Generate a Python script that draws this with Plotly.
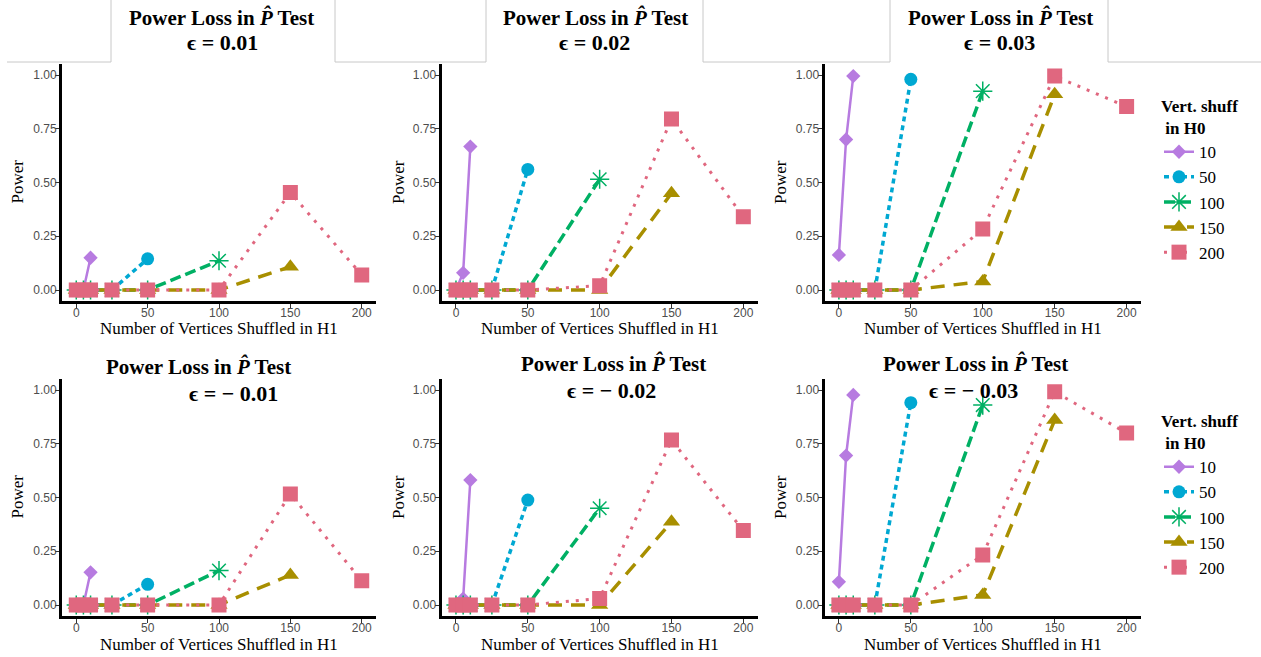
import plotly.graph_objects as go

# ---------------- data ----------------
x_h1 = [0, 5, 10, 25, 50, 100, 150, 200]          # vertices shuffled in H1
h0_groups = ["10", "50", "100", "150", "200"]      # vertices shuffled in H0
n_points = [3, 5, 6, 7, 8]                         # points per H0 group
eps_labels = ["0.01", "0.02", "0.03", "− 0.01", "− 0.02", "− 0.03"]
y_ticks = [0, 0.25, 0.5, 0.75, 1.0]
y_tick_text = ["0.00", "0.25", "0.50", "0.75", "1.00"]
x_ticks = [0, 50, 100, 150, 200]

power_eps_p01 = [[0, 0, 0.15], [0, 0, 0, 0, 0.145], [0, 0, 0, 0, 0, 0.136],
                 [0, 0, 0, 0, 0, 0, 0.108], [0, 0, 0, 0, 0, 0, 0.453, 0.07]]
power_eps_p02 = [[0, 0.08, 0.667], [0, 0, 0, 0, 0.561], [0, 0, 0, 0, 0, 0.515],
                 [0, 0, 0, 0, 0, 0, 0.45], [0, 0, 0, 0, 0, 0.02, 0.795, 0.341]]
power_eps_p03 = [[0.163, 0.70, 0.995], [0, 0, 0, 0, 0.98], [0, 0, 0, 0, 0, 0.925],
                 [0, 0, 0, 0, 0, 0.04, 0.91], [0, 0, 0, 0, 0, 0.284, 0.995, 0.853]]
power_eps_m01 = [[0, 0, 0.152], [0, 0, 0, 0, 0.096], [0, 0, 0, 0, 0, 0.16],
                 [0, 0, 0, 0, 0, 0, 0.14], [0, 0, 0, 0, 0, 0, 0.516, 0.113]]
power_eps_m02 = [[0, 0.03, 0.581], [0, 0, 0, 0, 0.488], [0, 0, 0, 0, 0, 0.45],
                 [0, 0, 0, 0, 0, 0, 0.387], [0, 0, 0, 0, 0, 0.03, 0.767, 0.346]]
power_eps_m03 = [[0.108, 0.695, 0.977], [0, 0, 0, 0, 0.941], [0, 0, 0, 0, 0, 0.93],
                 [0, 0, 0, 0, 0, 0.047, 0.86], [0, 0, 0, 0, 0, 0.233, 0.992, 0.80]]
panel_data = [power_eps_p01, power_eps_p02, power_eps_p03,
              power_eps_m01, power_eps_m02, power_eps_m03]

# ---------------- styles ----------------
W, H = 1261, 657
colors = ["#B77BE0", "#00A8D2", "#00B064", "#A88F00", "#E0677F"]
symbols = ["diamond", "circle", "asterisk-open", "triangle-up", "square"]
msizes = [11, 13, 16, 15, 15]
dashes = ["solid", "5px,4px", "11px,5px", "14px,9px", "3px,7px"]
lwidths = [2.5, 3.5, 3.5, 3.5, 3]

SERIF = "Liberation Serif"
SANS = "Liberation Sans"

def px(p):
    return p / W

def py(p):
    return 1 - p / H

# panel pixel boxes (x0, x1) and (ytop, ybottom)
cols = [(62, 376), (441.6, 757.7), (824.5, 1141)]
rows = [(64.25, 300.75), (379.25, 615.75)]

fig = go.Figure()
layout = dict(width=W, height=H, margin=dict(l=0, r=0, t=0, b=0),
              paper_bgcolor="white", plot_bgcolor="white", showlegend=True)

for k in range(6):
    r, c = divmod(k, 3)
    ax = "" if k == 0 else str(k + 1)
    x0, x1 = cols[c]
    yt, yb = rows[r]
    layout["xaxis" + ax] = dict(
        domain=[px(x0), px(x1)], range=[-10, 210], anchor="y" + ax,
        showgrid=False, zeroline=False, showline=True, linecolor="black", linewidth=3,
        ticks="outside", ticklen=4, tickwidth=1, tickcolor="#333333", ticklabelstandoff=-5,
        tickvals=x_ticks, tickfont=dict(family=SANS, size=12, color="#4D4D4D"))
    layout["yaxis" + ax] = dict(
        domain=[py(yb), py(yt)], range=[-0.05, 1.05], anchor="x" + ax,
        showgrid=False, zeroline=False, showline=True, linecolor="black", linewidth=3,
        ticks="outside", ticklen=4, tickwidth=1, tickcolor="#333333", ticklabelstandoff=-4,
        tickvals=y_ticks, ticktext=y_tick_text,
        tickfont=dict(family=SANS, size=12, color="#4D4D4D"))
    for g in range(5):
        n = n_points[g]
        show = (k == 0 or k == 3)
        fig.add_trace(go.Scatter(
            x=x_h1[:n], y=panel_data[k][g], xaxis="x" + ax, yaxis="y" + ax,
            mode="lines+markers", name=h0_groups[g],
            legend="legend" if r == 0 else "legend2", showlegend=show,
            line=dict(color=colors[g], width=lwidths[g], dash=dashes[g]),
            marker=dict(symbol=symbols[g], size=msizes[g], color=colors[g],
                        line=dict(color=colors[g], width=1.5 if g == 2 else 0))))

leg_common = dict(xanchor="left", yanchor="top", bgcolor="rgba(0,0,0,0)",
                  font=dict(family=SERIF, size=17, color="black"),
                  traceorder="normal")
layout["legend"] = dict(x=px(1159), y=py(90),
                        title=dict(text="<b>Vert. shuff<br> in H0</b>",
                                   font=dict(family=SERIF, size=17, color="black")),
                        **leg_common)
layout["legend2"] = dict(x=px(1159), y=py(405),
                         title=dict(text="<b>Vert. shuff<br> in H0</b>",
                                    font=dict(family=SERIF, size=17, color="black")),
                         **leg_common)

annotations = []
title1 = "<b>Power Loss in <i>P\u0302</i> Test</b>"
title_pos = [  # (line1 x, line1 y, line2 x, line2 y)
    (221.5, 17, 222.5, 43), (595, 17, 594.5, 43), (1000, 17, 999.5, 43),
    (198.5, 366, 233, 393), (613.5, 363, 611.5, 390), (975, 363, 973, 390)]
for k in range(6):
    a, b, c2, d = title_pos[k]
    annotations.append(dict(text=title1, x=px(a), y=py(b), xref="paper", yref="paper",
                            xanchor="center", yanchor="middle", showarrow=False,
                            font=dict(family=SERIF, size=21, color="black")))
    annotations.append(dict(text="<b>\u03f5 = " + eps_labels[k] + "</b>", x=px(c2), y=py(d),
                            xref="paper", yref="paper", xanchor="center", yanchor="middle",
                            showarrow=False, font=dict(family=SERIF, size=22, color="black")))
# axis titles
for k in range(6):
    r, c = divmod(k, 3)
    x0, x1 = cols[c]
    ylab_x = [16.5, 398, 780][c]
    ylab_y = [182, 497][r]
    xlab_y = [328, 644][r]
    annotations.append(dict(text="Power", x=px(ylab_x), y=py(ylab_y), xref="paper", yref="paper",
                            textangle=-90, xanchor="center", yanchor="middle", showarrow=False,
                            font=dict(family=SERIF, size=17, color="black")))
    annotations.append(dict(text="Number of Vertices Shuffled in H1", x=px((x0 + x1) / 2),
                            y=py(xlab_y), xref="paper", yref="paper", xanchor="center",
                            yanchor="middle", showarrow=False,
                            font=dict(family=SERIF, size=17, color="black")))
layout["annotations"] = annotations

# grey frame lines of the pasted title boxes
shapes = []
gc = "#C8C8C8"
for (a, b) in [(7, 111), (335, 486), (703, 890), (1108, 1261)]:
    shapes.append(dict(type="line", xref="paper", yref="paper", x0=px(a), x1=px(b),
                       y0=py(62), y1=py(62), line=dict(color=gc, width=1)))
for a in [111, 335, 486, 703, 890, 1108]:
    shapes.append(dict(type="line", xref="paper", yref="paper", x0=px(a), x1=px(a),
                       y0=py(0), y1=py(62), line=dict(color=gc, width=1)))
layout["shapes"] = shapes

fig.update_layout(**layout)
fig.write_html("out.html", config={"displayModeBar": False},
               post_script="document.body.style.margin='0px';document.body.style.overflow='hidden';")
